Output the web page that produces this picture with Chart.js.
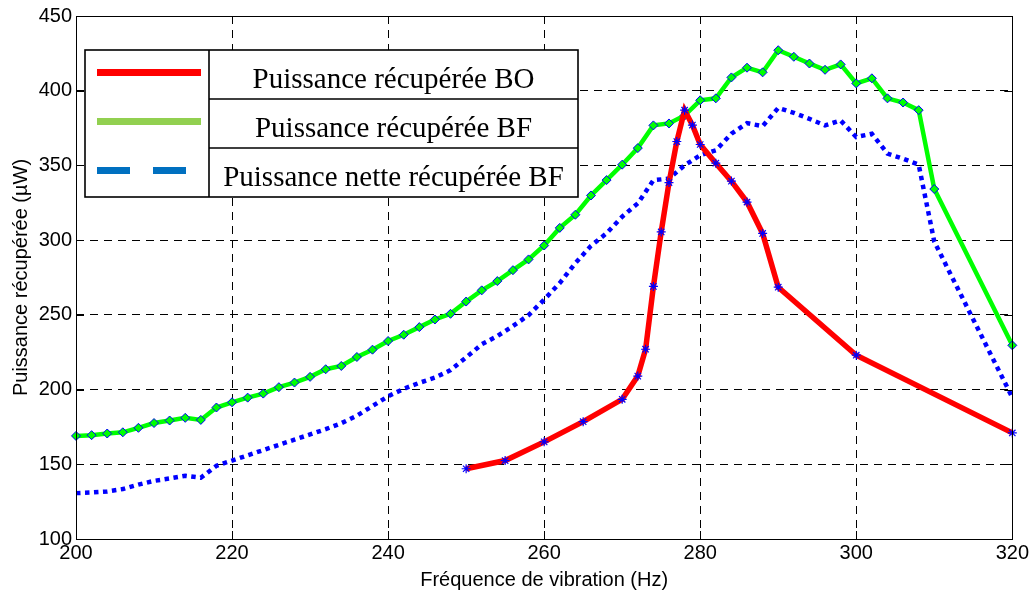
<!DOCTYPE html>
<html>
<head>
<meta charset="utf-8">
<script src="https://cdn.jsdelivr.net/npm/chart.js@4"></script>
<style>
  body { margin: 0; background: #fff; }
  #cadre { width: 1031px; height: 592px; position: relative; }
</style>
</head>
<body>
<div id="cadre"><canvas id="puissance"></canvas></div>
<script>
// fréquences (Hz)
var freqBO = [250, 255, 260, 265, 270, 272, 273, 274, 275, 276, 277, 278, 279, 280, 282, 284, 286, 288, 290, 300, 320]
var freqBF = [200, 202, 204, 206, 208, 210, 212, 214, 216, 218, 220, 222, 224, 226, 228, 230, 232, 234, 236, 238,
              240, 242, 244, 246, 248, 250, 252, 254, 256, 258, 260, 262, 264, 266, 268, 270, 272, 274, 276, 278,
              280, 282, 284, 286, 288, 290, 292, 294, 296, 298, 300, 302, 304, 306, 308, 310, 320]

// puissances (µW)
var puissanceBO = [147, 152.5, 165, 178.5, 193.5, 209, 227, 269, 305.5, 338.5, 366, 387, 377, 364, 351.5, 339.5, 325.5, 304.5, 268.5, 223, 171]
var puissanceBF = [169, 169.5, 170.6, 171.4, 174.4, 177.6, 179.3, 181.1, 179.7, 188, 191.5, 194.6, 197.3, 201.6, 204.7, 208.5, 213.6, 215.8, 221.8, 226.7,
                   232.5, 236.7, 241.8, 246.9, 250.7, 258.9, 266.4, 272.6, 279.9, 287.1, 296.4, 308.2, 317, 329.9, 340.2, 350.5, 361.6, 376.8, 378.1, 383.4,
                   393.6, 394.9, 408.9, 415.4, 412.3, 427.1, 422.7, 418.2, 414, 417.6, 404.9, 408.3, 394.9, 392.1, 387, 334.2, 229.6]
var puissanceNette = [130.7, 131.1, 131.8, 133.4, 136.4, 138.9, 140.5, 142.3, 141, 149, 152.5, 156, 159.5, 163, 166.5, 170, 173.5, 177.5, 182.5, 189,
                      195.5, 200.5, 204.5, 208, 213, 221.5, 230.3, 235.8, 242.5, 249.8, 260.2, 271.3, 284.6, 296.2, 304.6, 315.7, 324.6, 340.1, 341.2, 350.1,
                      356.8, 360.1, 371.2, 378.3, 376.3, 388.5, 385.2, 381.2, 376.8, 380.1, 369, 371.2, 357.9, 354.5, 350.5, 299, 194.7]

var libelles = ['Puissance récupérée BO', 'Puissance récupérée BF', 'Puissance nette récupérée BF']
var couleursLegende = ['#FF0000', '#92D050', '#0070C0']

function points(xs, ys) {
  return xs.map(function (x, i) { return { x: x, y: ys[i] } })
}

// cadre, graduations internes et légende en tableau
var habillage = {
  id: 'habillage',
  afterDraw: function (chart) {
    var ctx = chart.ctx
    var a = chart.chartArea
    var sx = chart.scales.x, sy = chart.scales.y
    ctx.save()
    ctx.strokeStyle = '#000'
    ctx.lineWidth = 1
    ctx.setLineDash([])
    ctx.strokeRect(Math.round(a.left) + 0.5, Math.round(a.top) + 0.5, Math.round(a.right - a.left), Math.round(a.bottom - a.top))
    ctx.beginPath()
    sx.ticks.forEach(function (t) {
      var px = Math.round(sx.getPixelForValue(t.value)) + 0.5
      ctx.moveTo(px, a.bottom); ctx.lineTo(px, a.bottom - 8)
      ctx.moveTo(px, a.top); ctx.lineTo(px, a.top + 8)
    })
    sy.ticks.forEach(function (t) {
      var py = Math.round(sy.getPixelForValue(t.value)) + 0.5
      ctx.moveTo(a.left, py); ctx.lineTo(a.left + 8, py)
      ctx.moveTo(a.right, py); ctx.lineTo(a.right - 8, py)
    })
    ctx.stroke()

    // légende
    var gx = a.left + 9, gy = a.top + 34, largeur = 493, hauteurLigne = 49, col = 124
    ctx.fillStyle = '#fff'
    ctx.fillRect(gx, gy, largeur, hauteurLigne * 3)
    ctx.lineWidth = 1.6
    ctx.strokeRect(gx, gy, largeur, hauteurLigne * 3)
    ctx.beginPath()
    ctx.moveTo(gx + col, gy); ctx.lineTo(gx + col, gy + hauteurLigne * 3)
    ctx.moveTo(gx + col, gy + hauteurLigne); ctx.lineTo(gx + largeur, gy + hauteurLigne)
    ctx.moveTo(gx + col, gy + 2 * hauteurLigne); ctx.lineTo(gx + largeur, gy + 2 * hauteurLigne)
    ctx.stroke()

    ctx.font = '29px "Liberation Serif", "Times New Roman", serif'
    ctx.textAlign = 'center'
    ctx.textBaseline = 'alphabetic'
    for (var i = 0; i < 3; i++) {
      var cy = gy + hauteurLigne * i + hauteurLigne / 2
      ctx.lineWidth = 7
      ctx.strokeStyle = couleursLegende[i]
      ctx.setLineDash(i == 2 ? [33, 23] : [])
      ctx.beginPath()
      ctx.moveTo(gx + 12, cy - 2); ctx.lineTo(gx + 116, cy - 2)
      ctx.stroke()
      ctx.fillStyle = '#000'
      ctx.fillText(libelles[i], gx + col + (largeur - col) / 2, cy + 13)
    }
    ctx.restore()
  }
}

var police = { family: '"Liberation Sans", Arial, sans-serif', size: 20 }

new Chart(document.getElementById('puissance'), {
  type: 'line',
  data: {
    datasets: [
      {
        label: libelles[0],
        data: points(freqBO, puissanceBO),
        borderColor: '#FF0000',
        borderWidth: 5.5,
        pointStyle: 'star',
        pointRadius: 4.5,
        pointBorderColor: '#0000FF',
        pointBorderWidth: 1.2,
        clip: false
      },
      {
        label: libelles[1],
        data: points(freqBF, puissanceBF),
        borderColor: '#00FF00',
        borderWidth: 4.5,
        pointStyle: 'rectRot',
        pointRadius: 4.5,
        pointBackgroundColor: '#00FF00',
        pointBorderColor: '#0000FF',
        pointBorderWidth: 1,
        clip: false
      },
      {
        label: libelles[2],
        data: points(freqBF, puissanceNette),
        borderColor: '#0000FF',
        borderWidth: 4.5,
        borderDash: [4.5, 4.5],
        borderCapStyle: 'butt',
        pointRadius: 0,
        clip: false
      }
    ]
  },
  options: {
    responsive: true,
    maintainAspectRatio: false,
    animation: false,
    events: [],
    layout: { padding: { top: 13, right: 18, left: 0, bottom: 0 } },
    plugins: { legend: { display: false }, tooltip: { enabled: false } },
    scales: {
      x: {
        type: 'linear',
        min: 200,
        max: 320,
        ticks: { stepSize: 20, color: '#000', font: police, padding: 2 },
        grid: { color: '#000', lineWidth: 1, drawTicks: false },
        border: { display: false, dash: [8, 6] },
        title: { display: true, text: 'Fréquence de vibration (Hz)', color: '#000', font: police, padding: { top: 0, bottom: 0 } },
        afterFit: function (s) { s.height = 53 }
      },
      y: {
        min: 100,
        max: 450,
        ticks: { stepSize: 50, color: '#000', font: police, padding: 4 },
        grid: { color: '#000', lineWidth: 1, drawTicks: false },
        border: { display: false, dash: [8, 6] },
        title: { display: true, text: 'Puissance récupérée (µW)', color: '#000', font: police, padding: { top: 9, bottom: 0 } },
        afterFit: function (s) { s.width = 76 }
      }
    }
  },
  plugins: [habillage]
})
</script>
</body>
</html>
